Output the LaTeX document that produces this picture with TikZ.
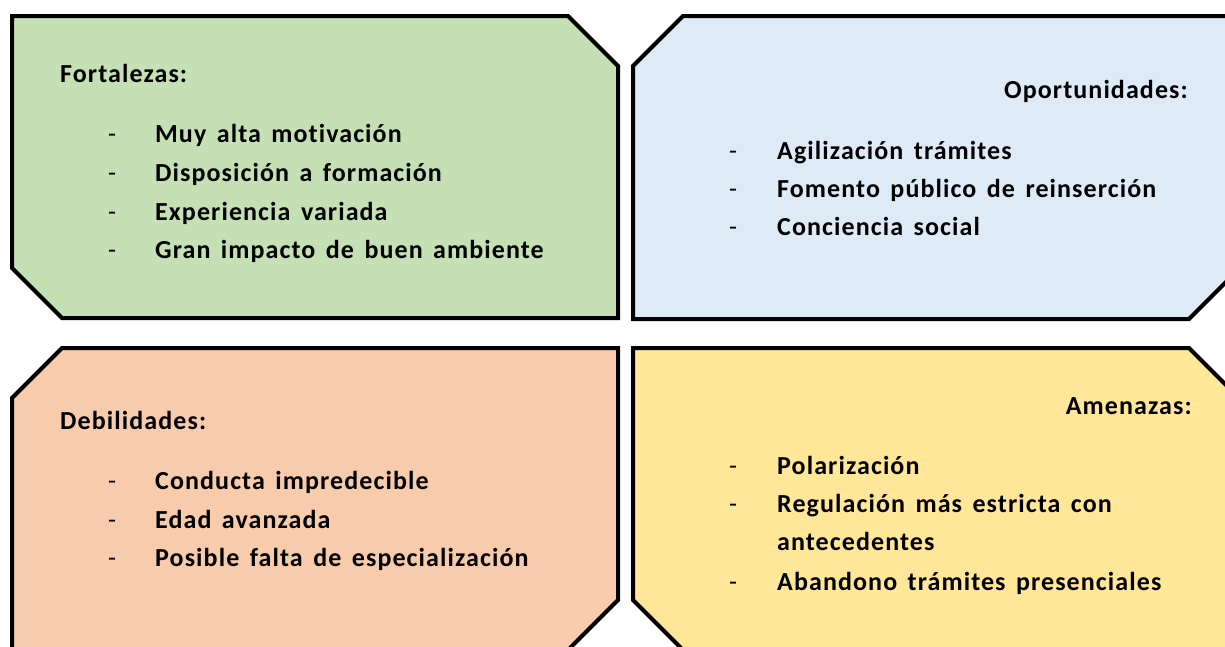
\documentclass[tikz,border=0pt]{standalone}
\usepackage{fontspec}
\setmainfont{Carlito}[LetterSpace=4.2, WordSpace=1.5, Ligatures=NoCommon]
\usepackage{tikz}

\definecolor{fgreen}{HTML}{C5E0B4}
\definecolor{oblue}{HTML}{DEEBF7}
\definecolor{dorange}{HTML}{F8CBAD}
\definecolor{ayellow}{HTML}{FFE699}

\tikzset{
  panel/.style={draw=black, line width=4pt, line join=miter},
  head/.style={font=\fontsize{26}{26}\selectfont\bfseries, inner sep=0pt},
  item/.style={font=\fontsize{26}{26}\selectfont\bfseries, inner sep=0pt, anchor=base west},
  bullet/.style={font=\fontsize{26}{26}\selectfont, inner sep=0pt, anchor=base west}
}

\begin{document}
\begin{tikzpicture}[x=1pt,y=-1pt]

\useasboundingbox (0,0) rectangle (1225,646);
\clip (0,0) rectangle (1225,646);

%% panels
\fill[white] (0,0) rectangle (1225,646);
\draw[panel, fill=fgreen] (12,16) -- (568,16) -- (618,66) -- (618,318) -- (62,318) -- (12,268) -- cycle;
\draw[panel, fill=oblue] (683,16) -- (1239,16) -- (1239,269) -- (1189,319) -- (633,319) -- (633,66) -- cycle;
\draw[panel, fill=dorange] (62,348) -- (618,348) -- (618,600) -- (568,650) -- (12,650) -- (12,398) -- cycle;
\draw[panel, fill=ayellow] (633,348) -- (1189,348) -- (1239,398) -- (1239,650) -- (683,650) -- (633,600) -- cycle;

%% Fortalezas
\node[head, anchor=base west] (fort) at (60,82) {Fortalezas:};
\node[bullet] (fd1) at (108,142) {-};
\node[item] (f1) at (155,142) {Muy alta motivación};
\node[bullet] (fd2) at (108,181) {-};
\node[item] (f2) at (155,181) {Disposición a formación};
\node[bullet] (fd3) at (108,220) {-};
\node[item] (f3) at (155,220) {Experiencia variada};
\node[bullet] (fd4) at (108,258) {-};
\node[item] (f4) at (155,258) {Gran impacto de buen ambiente};

%% Oportunidades
\node[head, anchor=base east] (opor) at (1188,98) {Oportunidades:};
\node[bullet] (od1) at (729,159) {-};
\node[item] (o1) at (777,159) {Agilización trámites};
\node[bullet] (od2) at (729,197) {-};
\node[item] (o2) at (777,197) {Fomento público de reinserción};
\node[bullet] (od3) at (729,235) {-};
\node[item] (o3) at (777,235) {Conciencia social};

%% Debilidades
\node[head, anchor=base west] (debi) at (60,429) {Debilidades:};
\node[bullet] (dd1) at (108,489) {-};
\node[item] (d1) at (155,489) {Conducta impredecible};
\node[bullet] (dd2) at (108,528) {-};
\node[item] (d2) at (155,528) {Edad avanzada};
\node[bullet] (dd3) at (108,566) {-};
\node[item] (d3) at (155,566) {Posible falta de especialización};

%% Amenazas
\node[head, anchor=base east] (amen) at (1192,414) {Amenazas:};
\node[bullet] (ad1) at (729,474) {-};
\node[item] (a1) at (777,474) {Polarización};
\node[bullet] (ad2) at (729,512) {-};
\node[item] (a2) at (777,512) {Regulación más estricta con};
\node[item] (a2b) at (777,550) {antecedentes};
\node[bullet] (ad3) at (729,590) {-};
\node[item] (a3) at (777,590) {Abandono trámites presenciales};

\end{tikzpicture}
\end{document}
